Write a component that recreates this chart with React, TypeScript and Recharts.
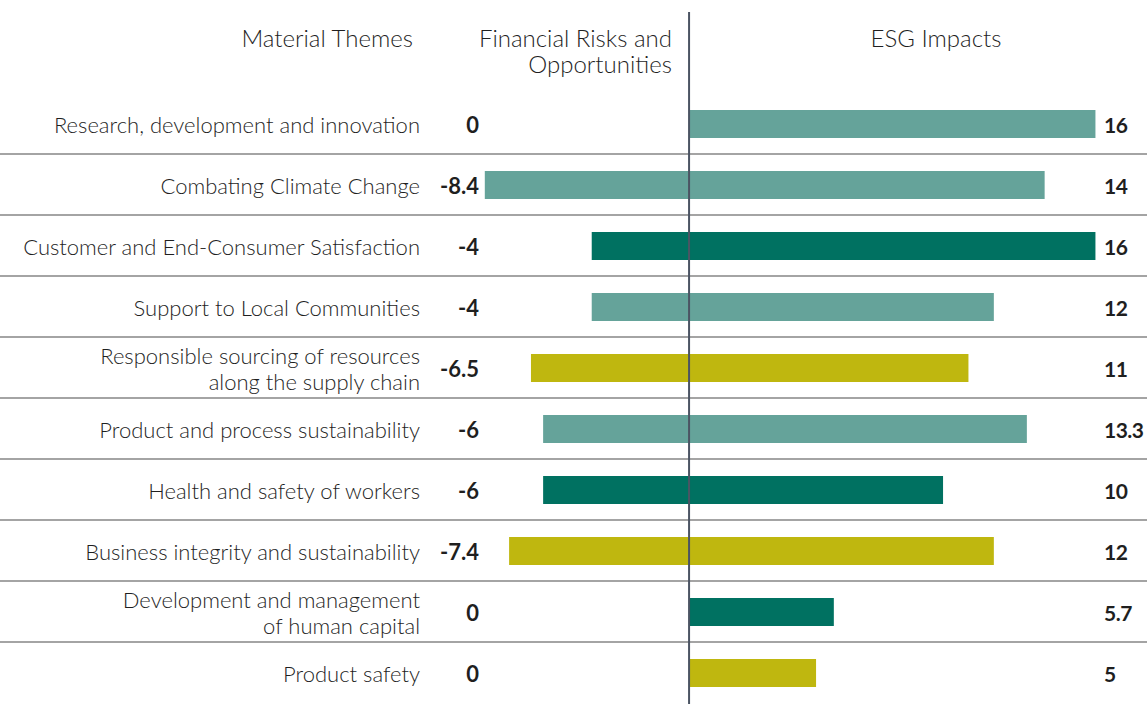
import React from "react";
import {
  ComposedChart,
  Bar,
  XAxis,
  YAxis,
  Cell,
  LabelList,
  ReferenceLine,
  CartesianGrid,
} from "recharts";

const categories = [
  "Research, development and innovation",
  "Combating Climate Change",
  "Customer and End-Consumer Satisfaction",
  "Support to Local Communities",
  "Responsible sourcing of resources\nalong the supply chain",
  "Product and process sustainability",
  "Health and safety of workers",
  "Business integrity and sustainability",
  "Development and management\nof human capital",
  "Product safety",
];
const financialRisks = [0, -8.4, -4, -4, -6.5, -6, -6, -7.4, 0, 0];
const esgImpacts = [16, 14, 16, 12, 11, 13.3, 10, 12, 5.7, 5];
const themeGroups = ["light", "light", "dark", "light", "olive", "light", "dark", "olive", "dark", "olive"];
const headers = ["Material Themes", "Financial Risks and\nOpportunities", "ESG Impacts"];

const groupColors: Record<string, string> = {
  light: "#65A39A",
  dark: "#007161",
  olive: "#BFB70F",
};

const data = categories.map((name, i) => ({
  name,
  fin: financialRisks[i],
  esg: esgImpacts[i],
  group: themeGroups[i],
}));

const W = 1147;
const H = 704;
const FONT = "Lato, 'Open Sans', sans-serif";
const TEXT = "#1f1f1f";

const CategoryLabel = (props: any) => {
  const { y, height, value } = props;
  const lines = String(value).split("\n");
  const cy = y + height / 2;
  const lh = 26;
  const start = cy - ((lines.length - 1) * lh) / 2;
  return (
    <text
      x={420}
      y={start}
      textAnchor="end"
      dominantBaseline="central"
      fontFamily={FONT}
      fontWeight={300}
      fontSize={22}
      fill={TEXT}
    >
      {lines.map((l, k) => (
        <tspan key={k} x={420} y={start + k * lh} dominantBaseline="central">
          {l}
        </tspan>
      ))}
    </text>
  );
};

const LeftValue = (props: any) => {
  const { y, height, value } = props;
  return (
    <text
      x={479}
      y={y + height / 2}
      textAnchor="end"
      dominantBaseline="central"
      fontFamily={FONT}
      fontWeight={700}
      fontSize={22}
      fill={TEXT}
    >
      {value}
    </text>
  );
};

const RightValue = (props: any) => {
  const { y, height, value } = props;
  return (
    <text
      x={1104}
      y={y + height / 2}
      textAnchor="start"
      dominantBaseline="central"
      fontFamily={FONT}
      fontWeight={700}
      fontSize={21}
      letterSpacing={-0.5}
      fill={TEXT}
    >
      {value}
    </text>
  );
};

const AxisLine = (props: any) => {
  const { x1, x2, y2 } = props;
  return <line x1={x1} x2={x2} y1={12} y2={Math.max(y2, H)} stroke="#4b5463" strokeWidth={2} />;
};

const headerStyle: React.CSSProperties = {
  position: "absolute",
  fontFamily: FONT,
  fontWeight: 300,
  fontSize: 24,
  lineHeight: "26px",
  color: TEXT,
  whiteSpace: "pre",
};

export default function App() {
  return (
    <div style={{ position: "absolute", left: 0, top: 0, width: W, height: H, background: "#fff" }}>
      <ComposedChart
        width={W}
        height={H}
        data={data}
        layout="vertical"
        margin={{ top: 93, right: 0, bottom: 1, left: 0 }}
        barSize={28}
      >
        <CartesianGrid
          vertical={false}
          stroke="#4a4a4a"
          strokeWidth={1.2}
          xAxisId="r"
          yAxisId="b"
          horizontalCoordinatesGenerator={({ offset }: any) => {
            const n = categories.length;
            const step = offset.height / n;
            const out: number[] = [];
            for (let i = 1; i < n; i++) out.push(offset.top + i * step);
            return out;
          }}
        />
        <XAxis xAxisId="l" type="number" domain={[-28.35, 18.85]} allowDataOverflow hide />
        <XAxis xAxisId="r" type="number" domain={[-27.13, 18.03]} allowDataOverflow hide />
        <YAxis yAxisId="a" type="category" dataKey="name" hide />
        <YAxis yAxisId="b" type="category" dataKey="name" hide />
        <Bar dataKey="fin" xAxisId="l" yAxisId="a" isAnimationActive={false}>
          {data.map((d, i) => (
            <Cell key={i} fill={groupColors[d.group]} />
          ))}
        </Bar>
        <Bar dataKey="esg" xAxisId="r" yAxisId="b" isAnimationActive={false}>
          {data.map((d, i) => (
            <Cell key={i} fill={groupColors[d.group]} />
          ))}
          <LabelList dataKey="name" content={CategoryLabel} />
          <LabelList dataKey="fin" content={LeftValue} />
          <LabelList dataKey="esg" content={RightValue} />
        </Bar>
        <ReferenceLine x={0} xAxisId="r" yAxisId="b" shape={AxisLine} />
      </ComposedChart>
      <div style={{ ...headerStyle, right: W - 413, top: 25, textAlign: "right" }}>{headers[0]}</div>
      <div style={{ ...headerStyle, right: W - 672, top: 25, textAlign: "right" }}>{headers[1]}</div>
      <div style={{ ...headerStyle, left: 936, top: 25, transform: "translateX(-50%)", textAlign: "center" }}>
        {headers[2]}
      </div>
    </div>
  );
}
